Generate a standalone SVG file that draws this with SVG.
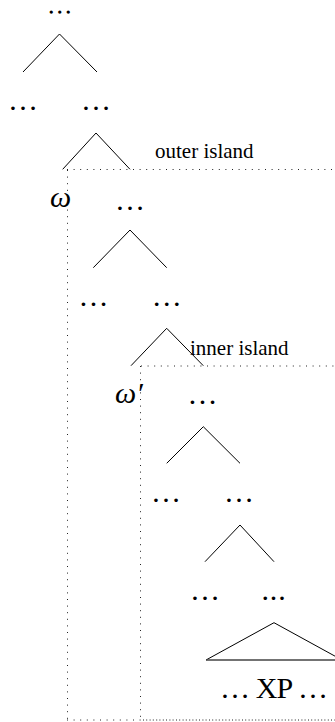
<svg xmlns="http://www.w3.org/2000/svg" width="335" height="722" viewBox="0 0 335 722">
<style>
.d{font-family:"Liberation Serif",serif;font-size:30px;fill:#000;text-anchor:middle}
.p{font-family:"Liberation Serif",serif;font-size:30px;fill:#000;text-anchor:middle;letter-spacing:0.8px}
.ps{font-family:"Liberation Serif",serif;font-size:14px;fill:#000;stroke:#000;stroke-width:1.5;letter-spacing:5px}
.w{font-family:"Liberation Serif",serif;font-style:italic;font-size:30px;fill:#000}
.lbl{font-family:"Liberation Serif",serif;font-size:21px;fill:#000}
.xp{font-family:"Liberation Serif",serif;font-size:30px;fill:#000}
.t{fill:none;stroke:#000;stroke-width:1}
.dot{fill:none;stroke:#222;stroke-width:1;stroke-dasharray:1 5.6}
</style>
<rect width="335" height="722" fill="#fff"/>
<g id="islands">
<path class="dot" d="M67,169.5 H335"/>
<path class="dot" d="M67.5,170 V720"/>
<path class="dot" d="M67,720 H335"/>
<path class="dot" d="M141,366 H335"/>
<path class="dot" d="M140.5,366 V720"/>
<path class="dot" d="M143,720 H335"/>
</g>
<g id="connectors">
<path class="t" d="M23,72 L59.5,34 L97,72"/>
<path class="t" d="M62.7,169.3 L96,133 L130,169.3"/>
<path class="t" d="M93.3,267.7 L130,230 L166.7,267.7"/>
<path class="t" d="M131,365.7 L166.7,328.3 L203.3,365.7"/>
<path class="t" d="M166.7,463.3 L203.3,426.7 L240,463.3"/>
<path class="t" d="M205,561.7 L240,525 L274,561.7"/>
<path class="t" d="M206,660 L274,622.7 L342,660"/>
<path d="M206,660 H335" fill="none" stroke="#444" stroke-width="1.6"/>
</g>
<g id="n0"><text class="ps" x="49.5" y="13">...</text></g>
<g id="n1"><text class="d" x="23" y="110">…</text></g>
<g id="n2"><text class="d" x="96" y="110">…</text></g>
<g id="omega"><text class="w" x="50" y="207">ω</text></g>
<g id="n3"><text class="d" x="130" y="210">…</text></g>
<g id="outer-label"><text class="lbl" x="155" y="158">outer island</text></g>
<g id="n4"><text class="d" x="93.5" y="306">…</text></g>
<g id="n5"><text class="d" x="166.7" y="306">…</text></g>
<g id="inner-label"><text class="lbl" x="190" y="355">inner island</text></g>
<g id="omega-prime"><text class="w" x="115" y="403">ω′</text></g>
<g id="n6"><text class="d" x="202.5" y="404">…</text></g>
<g id="n7"><text class="d" x="166" y="502">…</text></g>
<g id="n8"><text class="d" x="239" y="502">…</text></g>
<g id="n9"><text class="d" x="205" y="600">…</text></g>
<g id="n10"><text class="p" x="274" y="600">...</text></g>
<g id="xp"><text class="xp" x="220" y="698" textLength="108" lengthAdjust="spacing">… XP …</text></g>
</svg>
